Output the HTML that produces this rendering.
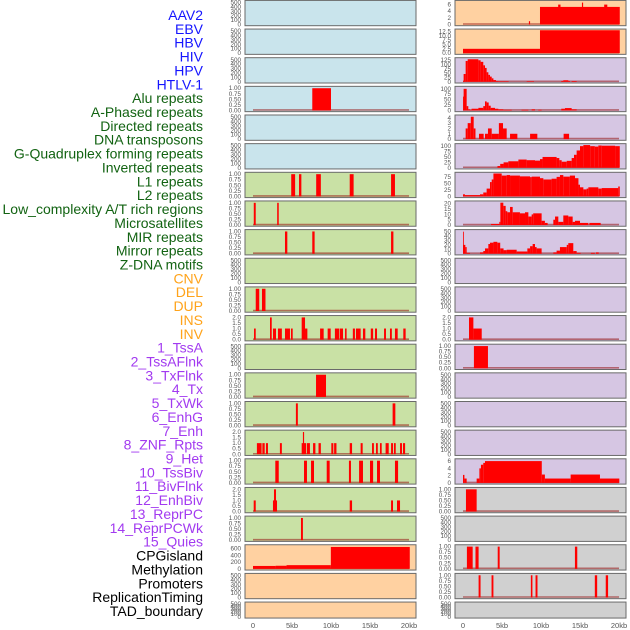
<!DOCTYPE html>
<html><head><meta charset="utf-8">
<style>
html,body{margin:0;padding:0;background:#fff;}
svg{display:block;font-family:"Liberation Sans",sans-serif;}
</style></head>
<body>
<svg id="chart" width="630" height="630" viewBox="0 0 630 630" xmlns="http://www.w3.org/2000/svg">
<g id="labels"></g>
<g id="panels"></g>
<g id="xaxes"></g>
</svg>
<script>
const trackLabels = ["AAV2","EBV","HBV","HIV","HPV","HTLV-1","Alu repeats","A-Phased repeats","Directed repeats","DNA transposons","G-Quadruplex forming repeats","Inverted repeats","L1 repeats","L2 repeats","Low_complexity A/T rich regions","Microsatellites","MIR repeats","Mirror repeats","Z-DNA motifs","CNV","DEL","DUP","INS","INV","1_TssA","2_TssAFlnk","3_TxFlnk","4_Tx","5_TxWk","6_EnhG","7_Enh","8_ZNF_Rpts","9_Het","10_TssBiv","11_BivFlnk","12_EnhBiv","13_ReprPC","14_ReprPCWk","15_Quies","CPGisland","Methylation","Promoters","ReplicationTiming","TAD_boundary"];
const labelGroups = ["v","v","v","v","v","v","r","r","r","r","r","r","r","r","r","r","r","r","r","s","s","s","s","s","c","c","c","c","c","c","c","c","c","c","c","c","c","c","c","k","k","k","k","k"];
const xTickValues = [0,5,10,15,20];
const xTickLabels = ["0","5kb","10kb","15kb","20kb"];

const T500 = ["0","100","200","300","400","500"];
const T1 = ["0.00","0.25","0.50","0.75","1.00"];
const T2 = ["0.0","0.5","1.0","1.5","2.0"];

const leftBg = ["b","b","b","b","b","b","g","g","g","g","g","g","g","g","g","g","g","g","g","o","o","o"];
const leftMax = [520,520,520,1.03,520,520,1.03,1.03,1.03,520,1.03,2.06,520,1.03,1.03,2.06,1.03,2.06,1.03,680,520,520];
const leftTicks = [T500,T500,T500,T1,T500,T500,T1,T1,T1,T500,T1,T2,T500,T1,T1,T2,T1,T2,T1,["0","200","400","600"],T500,T500];
const leftData = [
 null,null,null,
 [[7.6,10.0,1]],
 null,null,
 [[4.9,5.4,1],[5.9,6.2,1],[8.1,8.7,1],[12.4,12.9,1],[17.7,18.2,1]],
 [[0.1,0.35,1],[3.1,3.3,1]],
 [[4.1,4.4,1],[7.6,7.9,1],[17.7,18.0,1]],
 null,
 [[0.35,0.8,1],[1.15,1.6,1]],
 [[0.13,0.35,1],[2.18,2.4,2],[2.56,2.95,1],[3.2,3.7,1],[4.1,4.74,1],[4.87,5.09,1],[6.24,6.67,2],[6.67,6.97,1],[8.6,9.06,1],[9.57,9.96,1],[10.5,11.07,1],[11.15,11.54,1],[11.8,12.0,1],[12.8,13.07,1],[13.2,13.8,1],[14.1,14.4,1],[15.1,15.4,1],[15.64,15.9,1],[16.8,17.05,1],[17.56,17.8,1],[18.2,18.55,1],[19.27,19.57,1]],
 null,
 [[8.08,9.36,1]],
 [[5.5,5.75,1],[17.9,18.25,1]],
 [[0.5,1.1,1],[1.2,1.5,1],[1.66,1.92,1],[3.45,3.7,1],[6.24,6.8,1],[6.4,6.55,2],[6.9,7.3,1],[7.7,8.0,1],[8.4,8.7,1],[10.04,10.3,1],[10.4,10.7,1],[12.4,12.7,1],[13.8,14.06,1],[15.26,15.5,1],[15.77,16.0,1],[16.28,16.5,1],[17.0,17.4,1],[17.7,17.95,1],[18.07,18.3,1],[18.85,19.1,1],[19.23,19.5,1]],
 [[2.86,3.3,1],[6.54,6.92,1],[7.44,7.82,1],[9.45,9.83,1],[12.3,12.56,1],[13.6,14.1,1],[15.0,15.4,1],[15.9,16.28,1],[18.2,18.6,1]],
 [[0.09,0.35,1],[2.56,3.08,1],[2.69,2.95,2],[12.4,12.7,1],[17.7,17.95,1],[18.46,18.85,1]],
 [[6.15,6.4,1]],
 [[0,2.9,86],[2.9,4.3,92],[4.3,9.98,110],[9.98,20.1,650]],
 null,null
];

const rightBg = ["o","o","p","p","p","p","p","p","p","p","p","p","p","p","p","p","p","y","y","y","y","y"];
const rightMax = [6.9,13.2,132,106,4.3,106,88,21.5,52,520,520,2.06,1.03,520,520,520,6.3,1.03,520,1.03,1.03,520];
const rightTicks = [["0","2","4","6"],["0.0","2.5","5.0","7.5","10.0","12.5"],["0","25","50","75","100","125"],["0","25","50","75","100"],["0","1","2","3","4"],["0","25","50","75","100"],["0","25","50","75"],["0","5","10","15","20"],["0","10","20","30","40","50"],T500,T500,T2,T1,T500,T500,T500,["0","2","4","6"],T1,T500,T1,T1,T500];
const rightData = [
 [[8.45,8.6,1],[9.87,20.1,5.3],[12.2,12.5,6],[15.25,15.4,6.6],[18.1,18.5,6]],
 [[0,9.87,2.5],[9.87,20.1,13.2]],
 [[0,0.08,5],[0.08,0.34,45],[0.34,0.6,120],[0.6,1.97,130],[1.97,2.26,124],[2.26,2.6,115],[2.6,2.82,95],[2.82,3.03,80],[3.03,3.25,55],[3.25,3.46,40],[3.46,3.68,30],[3.68,3.9,20],[3.9,4.23,10],[4.23,4.53,4],[4.53,5.85,3],[8.16,9.1,3],[12.6,12.86,5],[12.86,13.5,9],[13.5,13.7,5],[13.93,14.57,4]],
 [[0,0.08,64],[0.08,0.47,100],[0.47,0.68,20],[0.68,0.9,5],[0.9,1.1,2],[1.1,1.97,8],[1.97,2.6,12],[2.6,2.82,20],[2.82,3.03,42],[3.03,3.29,37],[3.29,3.55,22],[3.55,4.1,12],[4.1,4.53,8],[4.53,5.17,5],[5.17,6.25,3],[7.5,8.38,3],[8.8,9.23,5],[9.65,10.08,3],[12.6,13.07,8],[13.07,13.93,11],[13.93,14.57,5]],
 [[0.34,0.6,2],[0.6,1.0,3],[1.0,1.37,4.2],[1.37,1.6,2],[2.05,2.65,1],[2.82,3.2,1],[3.2,3.68,2],[3.68,4.6,1],[4.6,5.13,3],[5.13,5.6,2],[6.03,6.97,1],[8.6,9.53,1],[12.9,13.6,1]],
 [[4.42,4.77,8],[4.77,5.2,18],[5.2,5.81,25],[5.81,7.1,30],[7.1,8.16,38],[8.16,9.23,35],[9.23,9.87,33],[9.87,10.2,40],[10.2,12.0,50],[12.0,12.35,45],[12.35,12.65,35],[12.65,13.3,28],[13.3,13.93,32],[13.93,14.23,45],[14.23,14.57,60],[14.57,15.0,80],[15.0,15.43,100],[15.43,16.3,105],[16.3,16.9,100],[16.9,17.35,98],[17.35,17.78,103],[17.78,19.5,102],[19.5,20.1,100]],
 [[0,0.25,8],[0.25,2.18,5],[2.18,2.6,8],[2.6,3.03,15],[3.03,3.46,30],[3.46,3.68,55],[3.68,3.9,65],[3.9,4.96,88],[4.96,5.6,80],[5.6,6.03,82],[6.03,7.3,80],[7.3,8.6,77],[8.6,8.8,74],[8.8,9.87,76],[9.87,10.3,70],[10.3,11.36,65],[11.36,12.0,68],[12.0,12.43,75],[12.43,12.86,82],[12.86,13.7,76],[13.7,14.36,80],[14.36,14.8,70],[14.8,15.0,45],[15.0,15.43,35],[15.43,15.85,27],[15.85,16.07,30],[16.07,17.35,35],[17.35,17.78,30],[17.78,19.9,32],[19.9,20.1,38]],
 [[3.59,4.66,1],[4.66,4.79,3],[4.79,5.17,21],[5.17,5.47,18],[5.47,5.68,13],[5.68,6.03,12],[6.03,6.37,17],[6.37,7.3,12],[7.3,7.95,11],[7.95,8.38,12],[8.38,8.8,8],[8.8,9.0,10],[9.0,10.08,11],[10.08,10.5,4],[10.5,10.85,2],[11.58,11.8,5],[11.8,12.22,8],[12.22,12.86,3],[12.86,13.5,9],[13.5,14.06,8],[14.06,14.36,3],[14.36,15.0,4],[15.0,16.07,2],[16.2,17.65,2]],
 [[0,0.05,50],[0.05,0.3,20],[0.3,0.47,15],[0.47,0.9,2],[2.18,2.6,3],[2.6,2.82,6],[2.82,3.25,12],[3.25,3.46,22],[3.46,3.9,25],[3.9,4.4,27],[4.4,4.77,25],[4.77,5.2,12],[5.2,5.6,8],[5.6,6.88,9],[6.88,8.25,5],[8.25,8.6,12],[8.6,8.93,17],[8.93,9.23,22],[9.23,9.44,15],[9.44,10.08,12],[11.58,12.0,3],[12.0,12.43,7],[12.43,13.3,15],[13.3,13.5,20],[13.5,14.14,24],[14.14,14.57,6],[14.57,15.08,2],[16.4,16.9,2],[17.05,17.4,3]],
 null,null,
 [[0.77,1.33,2],[1.33,2.4,1]],
 [[1.4,3.2,1]],
 null,null,null,
 [[0,0.18,2.2],[0.18,0.47,1.2],[1.75,2.1,1.2],[2.1,2.3,4],[2.3,2.6,5],[2.6,2.82,5.5],[2.82,10.1,6],[10.1,10.5,2.3],[10.5,13.8,1.2],[13.8,17.56,2.3],[17.56,20.04,1.2]],
 [[0.38,1.75,1]],
 null,
 [[0.5,1.24,1],[1.6,2.0,1],[4.45,4.7,1],[14.35,14.65,1]],
 [[2.0,2.25,1],[3.66,3.9,1],[8.7,8.9,1],[9.3,9.55,1],[16.9,17.2,1],[18.3,18.6,1]],
 null
];

const NS = "http://www.w3.org/2000/svg";
const bgColors = {b:"#c9e4ec",g:"#c9e1a5",o:"#ffd1a1",p:"#d6c6e3",y:"#d0d0d0"};
const labelColors = {v:"#1515ff",r:"#126312",s:"#ffa31a",c:"#a23af0",k:"#000000"};
function mk(tag, attrs, parent){const e=document.createElementNS(NS,tag);for(const k in attrs)e.setAttribute(k,attrs[k]);parent.appendChild(e);return e;}

const gl = document.getElementById("labels");
trackLabels.forEach((t,i)=>{
  const el = mk("text",{x:203,y:15+i*13.86+5,"text-anchor":"end","font-size":"14",fill:labelColors[labelGroups[i]]},gl);
  el.textContent = t;
  
  
});

const gp = document.getElementById("panels");
function drawColumn(side, bgs, maxes, ticks, data){
  const px0 = side==="left"?245:455, pw = 171, dx0 = side==="left"?253:463, kbPx = 7.8;
  const xs = kb => dx0 + kb*kbPx;
  for(let r=0;r<22;r++){
    const top = 0.4 + r*28.65, h = r===21?16:25.3;
    const g = mk("g",{},gp);
    
    
    const rect = mk("rect",{x:px0,y:top,width:pw,height:h,fill:bgColors[bgs[r]],stroke:"#6a6a6a","stroke-width":1},g);
    
    
    const y0 = top+h-1.2, y1 = top+1.2, ymax = maxes[r];
    const ys = v => y0 - (v/ymax)*(y0-y1);
    ticks[r].forEach(lab=>{
      const t = mk("text",{x:px0-4,y:ys(parseFloat(lab))+2,"text-anchor":"end","font-size":"6.3",fill:"#555"},g);
      t.textContent = lab;
      
      
    });
    const d = data[r];
    if(d){
      const base = mk("line",{x1:xs(0),x2:xs(20),y1:y0-0.5,y2:y0-0.5,stroke:"rgba(150,20,20,0.55)","stroke-width":1.6},g);
      
      
      d.forEach(s=>{
        const x = xs(s[0]), w = Math.max(xs(s[1])-x,0.8), yt = ys(s[2]);
        const b = mk("rect",{x:x,y:yt,width:w,height:y0-yt,fill:"#ff0000"},g);
        
        
      });
    }
  }
  const ga = document.getElementById("xaxes");
  xTickValues.forEach((v,i)=>{
    const t = mk("text",{x:xs(v),y:628,"text-anchor":"middle","font-size":"7.5",fill:"#555"},ga);
    t.textContent = xTickLabels[i];
    
    
  });
}
drawColumn("left", leftBg, leftMax, leftTicks, leftData);
drawColumn("right", rightBg, rightMax, rightTicks, rightData);
</script>
</body></html>
